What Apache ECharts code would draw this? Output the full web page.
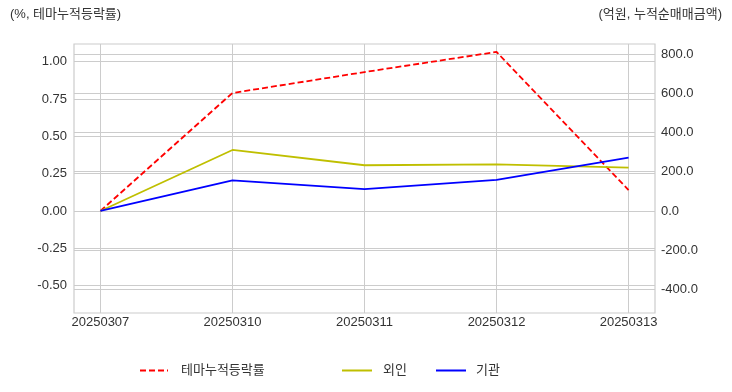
<!DOCTYPE html>
<html><head><meta charset="utf-8">
<script src="https://cdn.jsdelivr.net/npm/echarts@6/dist/echarts.min.js"></script>
<style>html,body{margin:0;padding:0;background:#fff}#c{width:732px;height:392px}</style>
</head><body><div id="c"></div>
<script>
var dates = ['20250307','20250310','20250311','20250312','20250313'];
var themeRate = [0, 0.79, 0.93, 1.065, 0.14];
var foreign = [0, 311, 233, 238, 221];
var institution = [0, 156, 111, 158, 272];
var leftTicks = [-0.5, -0.25, 0, 0.25, 0.5, 0.75, 1.0];
var rightTicks = [-400, -200, 0, 200, 400, 600, 800];
var leftTitle = '(%, 테마누적등락률)';
var rightTitle = '(억원, 누적순매매금액)';
var names = ['테마누적등락률', '외인', '기관'];

var FONT = 'Arial, "Liberation Sans", "Noto Sans CJK KR", sans-serif';
var grid = '#cccccc';
function pts(arr){ return arr.map(function(v,i){ return [i, v]; }); }
var chart = echarts.init(document.getElementById('c'), null, {renderer:'canvas'});
function leg(name, left, w, pad){
  return {data:[name], left: left, top: 364, padding: 0, itemWidth: w, itemHeight: 10,
          itemStyle: {opacity: 0},
          textStyle: {fontSize:13, color:'#333', fontFamily: FONT, padding:[0,0,0,pad]}};
}
chart.setOption({
  animation: false,
  backgroundColor: '#ffffff',
  textStyle: {fontFamily: FONT},
  grid: {left: 74, right: 77, top: 44, bottom: 79, show: true, borderColor: grid, borderWidth: 1.2, backgroundColor: '#ffffff'},
  graphic: [
    {type:'text', left: 10, top: 8, style:{text: leftTitle, font: '13px ' + FONT, fill:'#333'}},
    {type:'text', right: 10, top: 8, style:{text: rightTitle, font: '13px ' + FONT, fill:'#333'}}
  ],
  legend: [leg(names[0], 139, 28, 8), leg(names[1], 341, 30, 6), leg(names[2], 435, 30, 5)],
  xAxis: {
    type: 'value', min: -0.2, max: 4.2,
    axisLine: {show: false},
    axisTick: {show: false, customValues: [0,1,2,3,4]},
    axisLabel: {customValues: [0,1,2,3,4], formatter: function(v){ return dates[Math.round(v)]; }, color:'#333', fontSize: 13, margin: 3, fontFamily: FONT},
    splitLine: {show: true, lineStyle: {color: grid, width: 1}}
  },
  yAxis: [
    {type:'value', position:'left', min: -0.683, max: 1.118,
     axisLine:{show:false},
     axisTick:{show:false, customValues: leftTicks},
     axisLabel:{customValues: leftTicks, formatter: function(v){ return v.toFixed(2); }, color:'#333', fontSize: 13, margin: 7, fontFamily: FONT},
     splitLine:{show:true, lineStyle:{color: grid, width: 1}}},
    {type:'value', position:'right', min: -520, max: 851,
     axisLine:{show:false},
     axisTick:{show:false, customValues: rightTicks},
     axisLabel:{customValues: rightTicks, formatter: function(v){ return v.toFixed(1); }, color:'#333', fontSize: 13, margin: 6, fontFamily: FONT},
     splitLine:{show:true, lineStyle:{color: grid, width: 1}}}
  ],
  series: [
    {name: names[0], type:'line', yAxisIndex:0, data: pts(themeRate), symbol:'none', color:'#ff0000', lineStyle:{color:'#ff0000', width:1.8, type:[6,3]}},
    {name: names[1], type:'line', yAxisIndex:1, data: pts(foreign), symbol:'none', color:'#bfbf00', lineStyle:{color:'#bfbf00', width:1.8}},
    {name: names[2], type:'line', yAxisIndex:1, data: pts(institution), symbol:'none', color:'#0000ff', lineStyle:{color:'#0000ff', width:1.8}}
  ]
});
</script></body></html>
